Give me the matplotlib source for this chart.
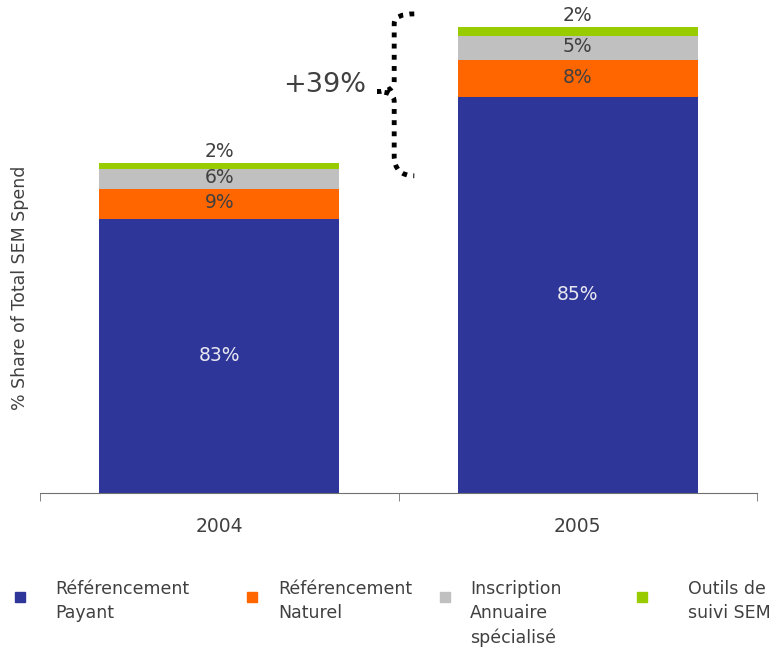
import matplotlib
matplotlib.use('Agg')
from matplotlib import pyplot as plt
from matplotlib.patches import Rectangle, PathPatch
from matplotlib.path import Path
import numpy as np

plt.rcParams['font.family'] = ['DejaVu Sans']

years = ['2004', '2005']
totals = [100, 141]  # total spend, 2004 = 100
segments = ['Référencement\nPayant', 'Référencement\nNaturel',
            'Inscription\nAnnuaire\nspécialisé', 'Outils de\nsuivi SEM']
shares = {
    'Référencement\nPayant': [83, 85],
    'Référencement\nNaturel': [9, 8],
    'Inscription\nAnnuaire\nspécialisé': [6, 5],
    'Outils de\nsuivi SEM': [2, 2],
}
colors = ['#2E3699', '#FF6600', '#C0C0C0', '#99CC00']
growth = '+39%'

TEXT = '#404040'

fig = plt.figure(figsize=(7.82, 6.52), dpi=100)
ax = fig.add_axes([40 / 782, 1 - 493 / 652, 717 / 782, 493 / 652])

x = np.arange(len(years))
bottoms = np.zeros(len(years))
for i, seg in enumerate(segments):
    pct = np.array(shares[seg], dtype=float)
    heights = pct / 100 * np.array(totals)
    ax.bar(x, heights, 0.67, bottom=bottoms, color=colors[i], linewidth=0)
    for j in range(len(years)):
        label = '{}%'.format(shares[seg][j])
        if i == 0:
            ax.text(x[j], bottoms[j] + heights[j] / 2, label, ha='center', va='center',
                    fontsize=13.5, color='#E8E8F0')
        elif i == len(segments) - 1:
            ax.text(x[j], bottoms[j] + heights[j] + 0.6, label, ha='center', va='bottom',
                    fontsize=13.5, color=TEXT)
        else:
            ax.text(x[j], bottoms[j] + heights[j] / 2 + 0.4, label, ha='center', va='center',
                    fontsize=13.5, color=TEXT)
    bottoms += heights

ax.set_xlim(-0.5, 1.5)
ax.set_ylim(0, 149.2)
for side in ['top', 'right', 'left']:
    ax.spines[side].set_visible(False)
ax.spines['bottom'].set_color('#707070')
ax.set_yticks([])
ax.set_xticks(x)
ax.set_xticklabels(years, fontsize=13.5, color=TEXT)
ax.tick_params(axis='x', which='major', length=0, pad=17)
ax.set_xticks([-0.5, 0.5, 1.5], minor=True)
ax.tick_params(axis='x', which='minor', length=6, color='#707070')

fig.text(20 / 782, 1 - 288 / 652, '% Share of Total SEM Spend', rotation=90,
         ha='center', va='center', fontsize=12.5, color=TEXT)

# curly brace between the two bar tops
top, bot = totals[1] + 4, totals[0] - 4
mid = (top + bot) / 2 + 1
xr, xc, xt = 0.544, 0.488, 0.441
verts = [(xr, top), (xc, top), (xc, top - 3), (xc, top - 6),
         (xc, mid + 3), (xc, mid), (xt, mid), (xc, mid), (xc, mid - 3),
         (xc, bot + 6), (xc, bot), (xr, bot)]
codes = [Path.MOVETO, Path.CURVE3, Path.CURVE3, Path.LINETO,
         Path.LINETO, Path.CURVE3, Path.CURVE3, Path.CURVE3, Path.CURVE3,
         Path.LINETO, Path.CURVE3, Path.CURVE3]
brace = PathPatch(Path(verts, codes), fill=False, edgecolor='black', linewidth=3.5,
                  linestyle=(0, (1, 1.3)), capstyle='butt', clip_on=False)
ax.add_patch(brace)
ax.text(0.41, mid + 2, growth, ha='right', va='center', fontsize=19.5, color=TEXT)

# legend row under the axis
box_x = [20, 252, 445, 642]
text_x = [55, 278, 470, 688]
for i, seg in enumerate(segments):
    fig.patches.append(Rectangle((box_x[i] / 782 - 5 / 782, 1 - 602 / 652), 10 / 782, 10 / 652,
                                 transform=fig.transFigure, color=colors[i]))
    fig.text(text_x[i] / 782, 1 - 580 / 652, seg, ha='left', va='top',
             fontsize=12.5, color=TEXT, linespacing=1.45)

plt.savefig('out.png', dpi=100)
